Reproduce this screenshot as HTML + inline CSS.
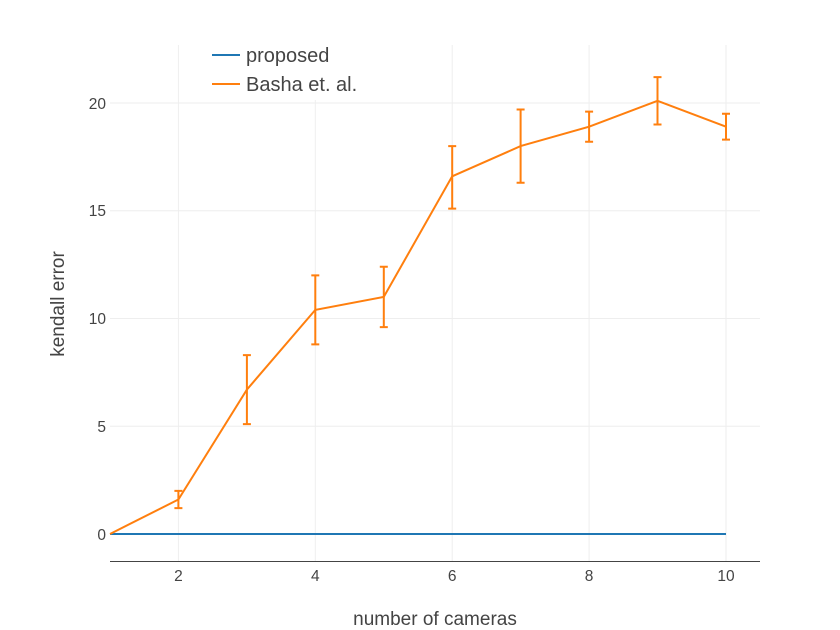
<!DOCTYPE html>
<html><head><meta charset="utf-8"><style>
body{margin:0;background:#fff}
svg{display:block;font-family:"Liberation Sans","DejaVu Sans",sans-serif}
</style></head><body>
<svg width="840" height="630" viewBox="0 0 840 630">
<rect width="840" height="630" fill="#fff"/>
<g stroke="#eeeeee" stroke-width="1">
<line x1="178.4" y1="45" x2="178.4" y2="561"/>
<line x1="315.3" y1="45" x2="315.3" y2="561"/>
<line x1="452.2" y1="45" x2="452.2" y2="561"/>
<line x1="589.1" y1="45" x2="589.1" y2="561"/>
<line x1="726" y1="45" x2="726" y2="561"/>
<line x1="110" y1="103" x2="760" y2="103"/>
<line x1="110" y1="210.8" x2="760" y2="210.8"/>
<line x1="110" y1="318.5" x2="760" y2="318.5"/>
<line x1="110" y1="426.3" x2="760" y2="426.3"/>
</g>
<line x1="110" y1="561.5" x2="760" y2="561.5" stroke="#444" stroke-width="1"/>
<g font-size="15.5" fill="#444" text-anchor="middle">
<text x="178.4" y="581">2</text><text x="315.3" y="581">4</text><text x="452.2" y="581">6</text><text x="589.1" y="581">8</text><text x="726" y="581">10</text>
</g>
<g font-size="15.5" fill="#444" text-anchor="end">
<text x="106" y="540">0</text><text x="106" y="432">5</text><text x="106" y="324">10</text><text x="106" y="216">15</text><text x="106" y="109">20</text>
</g>
<text x="435" y="625" font-size="19" fill="#444" text-anchor="middle">number of cameras</text>
<text transform="translate(64,304) rotate(-90)" font-size="19" fill="#444" text-anchor="middle">kendall error</text>
<polyline fill="none" stroke="#1f77b4" stroke-width="2" points="110,534 726,534"/>
<g stroke="#ff7f0e" stroke-width="2" fill="none">
<path d="M178.4 508.1V490.9M174.4 508.1h8M174.4 490.9h8"/>
<path d="M246.9 424.1V355.1M242.9 424.1h8M242.9 355.1h8"/>
<path d="M315.3 344.4V275.4M311.3 344.4h8M311.3 275.4h8"/>
<path d="M383.8 327.1V266.8M379.8 327.1h8M379.8 266.8h8"/>
<path d="M452.2 208.6V146.1M448.2 208.6h8M448.2 146.1h8"/>
<path d="M520.6 182.7V109.5M516.6 182.7h8M516.6 109.5h8"/>
<path d="M589.1 141.8V111.6M585.1 141.8h8M585.1 111.6h8"/>
<path d="M657.5 124.5V77.1M653.5 124.5h8M653.5 77.1h8"/>
<path d="M726 139.6V113.8M722 139.6h8M722 113.8h8"/>
<polyline points="110,534 178.4,499.5 246.9,389.6 315.3,309.9 383.8,296.9 452.2,176.3 520.6,146.1 589.1,126.7 657.5,100.8 726,126.7"/>
</g>
<rect x="206" y="44" width="166" height="56" fill="#fff"/>
<line x1="212" y1="55" x2="240" y2="55" stroke="#1f77b4" stroke-width="2"/>
<line x1="212" y1="84" x2="240" y2="84" stroke="#ff7f0e" stroke-width="2"/>
<text x="246" y="62" font-size="20" fill="#444">proposed</text>
<text x="246" y="91" font-size="20" fill="#444">Basha et. al.</text>
</svg>
</body></html>
